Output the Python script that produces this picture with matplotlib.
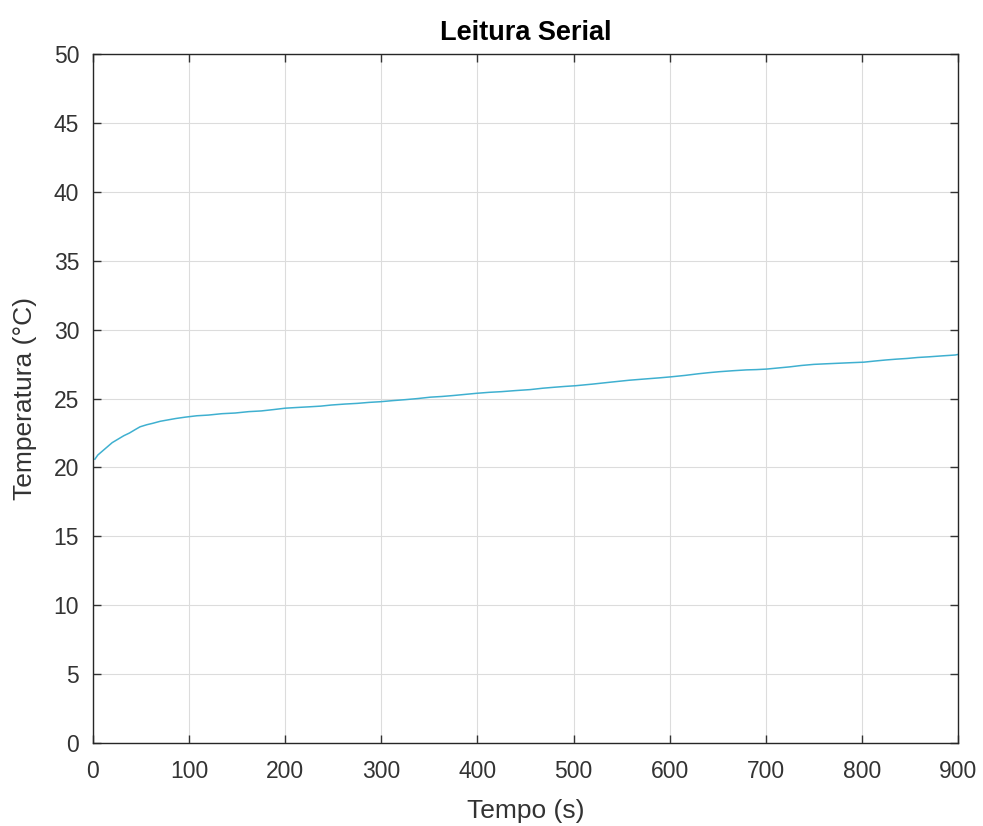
import matplotlib
matplotlib.use("Agg")
import matplotlib.pyplot as plt

plt.rcParams['font.family'] = ['Liberation Sans', 'DejaVu Sans']

tempo = [2, 5, 10, 15, 20, 26, 32, 38, 44, 49, 56, 62, 70, 78, 86, 96, 108, 120, 134,
         148, 162, 175, 188, 200, 212, 225, 237, 248, 262, 275, 287, 299, 312, 325,
         338, 351, 363, 375, 387, 399, 412, 425, 440, 455, 468, 480, 491, 502, 520,
         540, 558, 576, 589, 602, 616, 630, 641, 652, 666, 680, 690, 701, 713, 725,
         737, 750, 762, 775, 788, 802, 813, 825, 836, 847, 858, 870, 884, 897, 900]
temperatura = [20.6, 20.9, 21.2, 21.5, 21.8, 22.05, 22.3, 22.5, 22.75, 22.95, 23.1,
               23.2, 23.35, 23.45, 23.55, 23.65, 23.75, 23.8, 23.9, 23.95, 24.05, 24.1,
               24.2, 24.3, 24.35, 24.4, 24.45, 24.53, 24.6, 24.65, 24.72, 24.77, 24.85,
               24.92, 25.0, 25.1, 25.15, 25.22, 25.3, 25.38, 25.45, 25.5, 25.58, 25.65,
               25.75, 25.82, 25.88, 25.93, 26.05, 26.2, 26.33, 26.43, 26.5, 26.58,
               26.68, 26.8, 26.88, 26.95, 27.02, 27.08, 27.1, 27.14, 27.22, 27.3, 27.4,
               27.48, 27.52, 27.56, 27.6, 27.64, 27.72, 27.8, 27.86, 27.91, 27.98,
               28.03, 28.1, 28.16, 28.2]

fig = plt.figure(figsize=(9.83, 8.26), dpi=100)
ax = fig.add_axes([0.0946, 0.1005, 0.88, 0.834])
ax.plot(tempo, temperatura, color='#3fb0d0', linewidth=1.1)
ax.set_xlim(0, 900)
ax.set_ylim(0, 50)
ax.set_xticks(range(0, 901, 100))
ax.set_yticks(range(0, 51, 5))
ax.grid(True, color='#dcdcdc', linewidth=0.8)
ax.set_axisbelow(True)
ax.tick_params(direction='in', length=6, width=1, labelsize=16.5, colors='#333333',
               top=True, right=True)
ax.tick_params(axis='x', pad=12)
ax.tick_params(axis='y', pad=10)
for s in ax.spines.values():
    s.set_color('#262626')
    s.set_linewidth(1.0)
ax.set_xlabel('Tempo (s)', fontsize=19, color='#333333', labelpad=12)
ax.set_ylabel('Temperatura (°C)', fontsize=19, color='#333333', labelpad=12)
ax.set_title('Leitura Serial', fontsize=19.5, fontweight='bold', color='#000000', pad=10)
fig.savefig('out.png', dpi=100)
